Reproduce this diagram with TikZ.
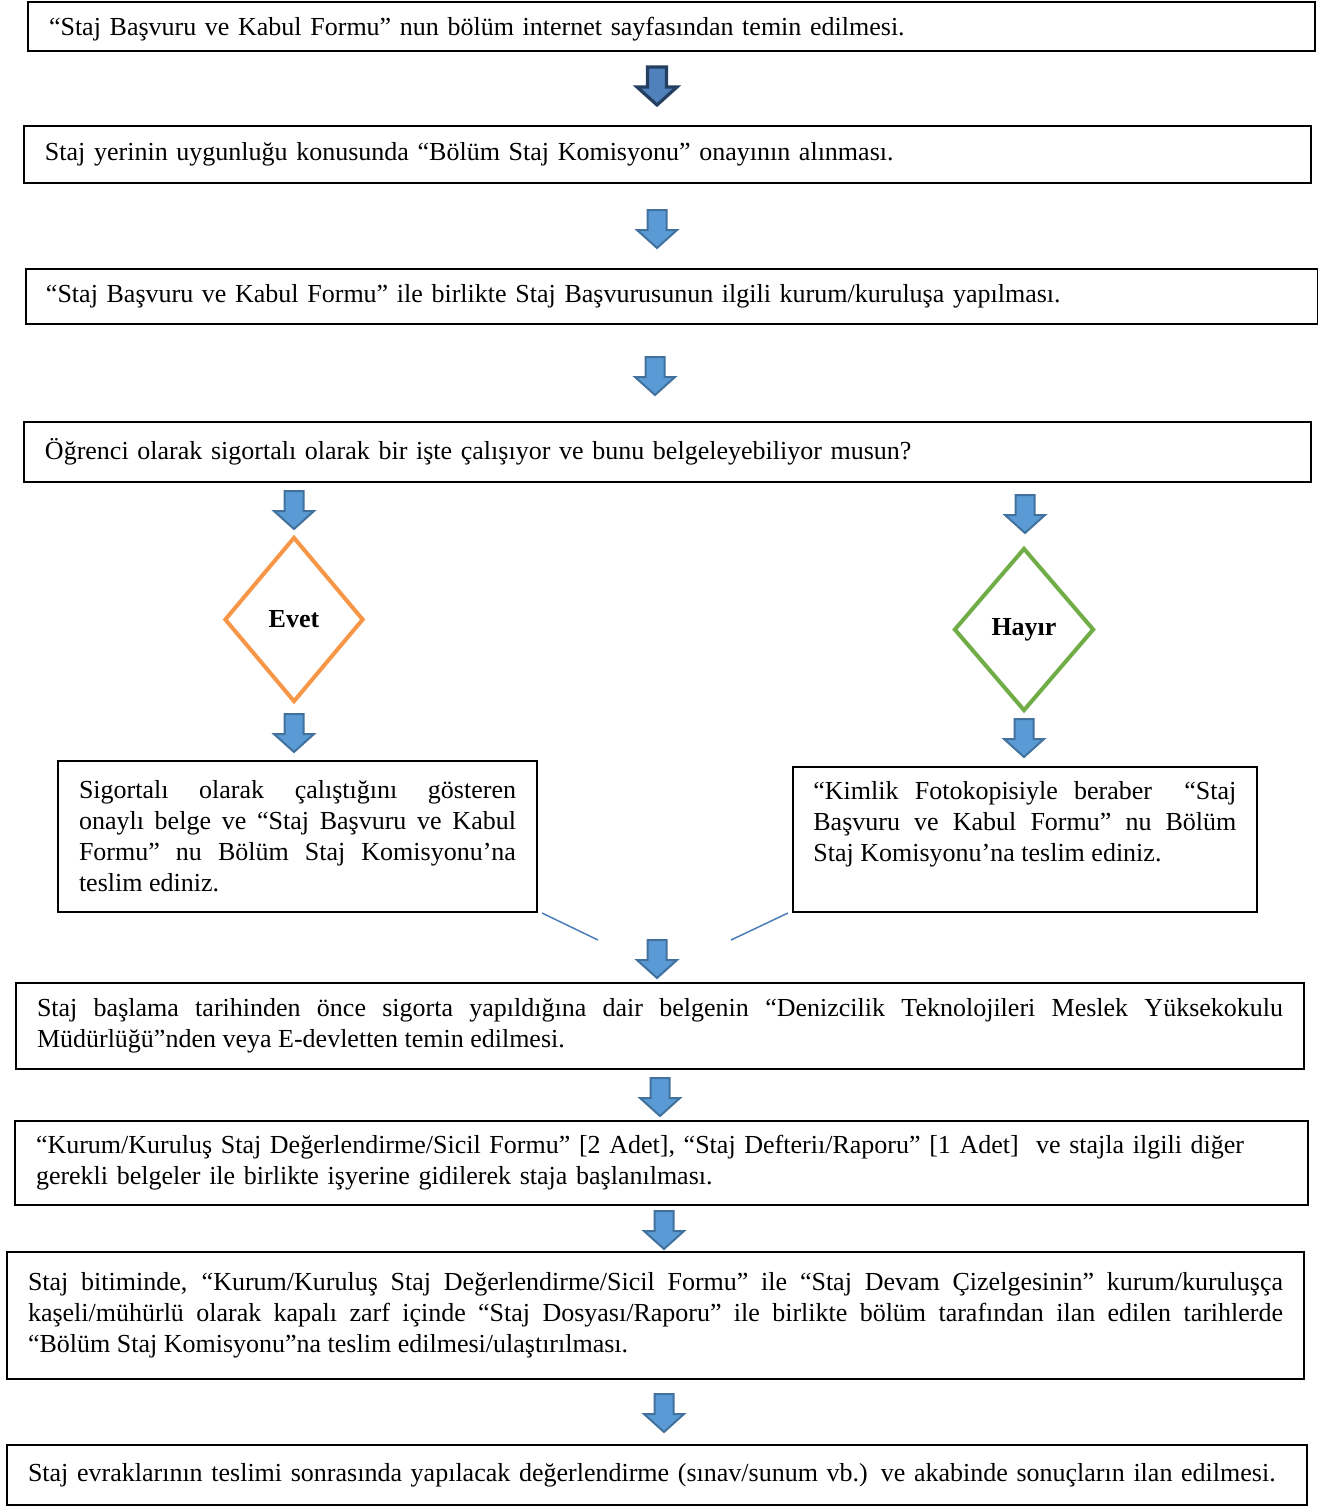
\documentclass[tikz,border=0pt]{standalone}
\usepackage{fontspec}
\setmainfont{Liberation Serif}
\usetikzlibrary{shapes.geometric,calc}
\definecolor{arrfill}{HTML}{5B9BD5}
\definecolor{arredge}{HTML}{41719C}
\definecolor{arrdark}{HTML}{243F60}
\definecolor{arrfillone}{HTML}{4F81BD}
\definecolor{evetc}{HTML}{F79646}
\definecolor{hayirc}{HTML}{70AD47}
\definecolor{linec}{HTML}{4A7EBB}
\newcommand{\boxfont}{\fontsize{13}{15.5}\selectfont}
\tikzset{
  pics/blockarrow/.style={code={
    \path[#1] (-9.5,0) -- (9.5,0) -- (9.5,20) -- (20,20) -- (0,38) -- (-20,20) -- (-9.5,20) -- cycle;}},
  arrnormal/.style={fill=arrfill, draw=arredge, line width=1pt, line join=miter},
  arrfirst/.style={fill=arrfillone, draw=arrdark, line width=1.6pt, line join=miter},
  box/.style={draw, line width=1pt, anchor=north west, inner ysep=0pt, inner xsep=10.5pt, align=left, font=\boxfont},
  jbox/.style={box, align=justify},
  frame/.style={draw, line width=1pt, anchor=north west, inner sep=0pt},
  txt/.style={inner sep=0pt, anchor=north west, align=justify, font=\boxfont},
  decision/.style={diamond, line width=2pt, inner sep=0pt, fill=white, font=\boxfont\bfseries},
  joinline/.style={linec, line width=0.75pt},
}
\begin{document}
\begin{tikzpicture}[x=0.5pt,y=-0.5pt]
\useasboundingbox (0,0) rectangle (1318,1506);

% boxes
\node[box, minimum width=643.5pt, minimum height=24.5pt, text width=622.5pt, text depth=0pt] (b1) at (27,1)
  {“Staj Başvuru ve Kabul Formu” nun bölüm internet sayfasından temin edilmesi.};
\node[box, minimum width=643.5pt, minimum height=28.5pt, text width=622.5pt] (b2) at (23,125)
  {Staj yerinin uygunluğu konusunda “Bölüm Staj Komisyonu” onayının alınması.};
\node[box, inner xsep=10pt, minimum width=646pt, minimum height=27.5pt, text width=626pt] (b3) at (25,268)
  {“Staj Başvuru ve Kabul Formu” ile birlikte Staj Başvurusunun ilgili kurum/kuruluşa yapılması.};
\node[box, minimum width=643.5pt, minimum height=30pt, text width=622.5pt] (b4) at (23,421)
  {Öğrenci olarak sigortalı olarak bir işte çalışıyor ve bunu belgeleyebiliyor musun?};

% decisions
\node[decision, draw=evetc, minimum width=69.5pt, minimum height=82.5pt] (evet) at (294,619.5) {Evet};
\node[decision, draw=hayirc, minimum width=70pt, minimum height=81.5pt] (hayir) at (1024,629.5) {Hayır};

% left result box
\node[jbox, minimum width=239.5pt, minimum height=75.5pt, text width=218.5pt] (lb) at (57,760)
  {Sigortalı olarak çalıştığını gösteren\linebreak onaylı belge ve “Staj Başvuru ve Kabul\linebreak Formu” nu Bölüm Staj Komisyonu’na\linebreak teslim ediniz.};

% right result box
\node[frame, minimum width=232pt, minimum height=72.5pt] (rb) at (792,766) {};
\node[txt, text width=211.5pt] (rt) at ($(rb.north west)+(21,15)$)
  {“Kimlik Fotokopisiyle beraber\ \ “Staj\linebreak Başvuru ve Kabul Formu” nu Bölüm\linebreak Staj Komisyonu’na teslim ediniz.};

% joining lines
\coordinate (l1a) at (542,913);
\coordinate (l1b) at (598,940);
\coordinate (l2a) at (788,913);
\coordinate (l2b) at (731,940);
\draw[joinline] (l1a) -- (l1b);
\draw[joinline] (l2a) -- (l2b);

\node[jbox, minimum width=644pt, minimum height=43pt, text width=623pt] (b5) at (15,982)
  {Staj başlama tarihinden önce sigorta yapıldığına dair belgenin “Denizcilik Teknolojileri Meslek Yüksekokulu\linebreak Müdürlüğü”nden veya E-devletten temin edilmesi.};
\node[box, minimum width=646.5pt, minimum height=42pt, text width=625.5pt] (b6) at (14,1120)
  {“Kurum/Kuruluş Staj Değerlendirme/Sicil Formu” [2 Adet], “Staj Defteriı/Raporu” [1 Adet]\ \ ve stajla ilgili diğer\\ gerekli belgeler ile birlikte işyerine gidilerek staja başlanılması.};
\node[jbox, minimum width=648.5pt, minimum height=63.5pt, text width=627.5pt] (b7) at (6,1251)
  {Staj bitiminde, “Kurum/Kuruluş Staj Değerlendirme/Sicil Formu” ile “Staj Devam Çizelgesinin” kurum/kuruluşça\linebreak kaşeli/mühürlü olarak kapalı zarf içinde “Staj Dosyası/Raporu” ile birlikte bölüm tarafından ilan edilen tarihlerde\linebreak “Bölüm Staj Komisyonu”na teslim edilmesi/ulaştırılması.};
\node[box, minimum width=650pt, minimum height=30pt, text width=629pt] (b8) at (6,1444)
  {Staj evraklarının teslimi sonrasında yapılacak değerlendirme (sınav/sunum vb.) ve akabinde sonuçların ilan edilmesi.};

% block arrows
\pic at (657,67) {blockarrow=arrfirst};
\pic at (657,210) {blockarrow=arrnormal};
\pic at (655,357) {blockarrow=arrnormal};
\pic at (294,491) {blockarrow=arrnormal};
\pic at (294,714) {blockarrow=arrnormal};
\pic at (1025,495) {blockarrow=arrnormal};
\pic at (1024,719) {blockarrow=arrnormal};
\pic at (657,940) {blockarrow=arrnormal};
\pic at (660,1078) {blockarrow=arrnormal};
\pic at (664,1211) {blockarrow=arrnormal};
\pic at (664,1394) {blockarrow=arrnormal};
\end{tikzpicture}
\end{document}
